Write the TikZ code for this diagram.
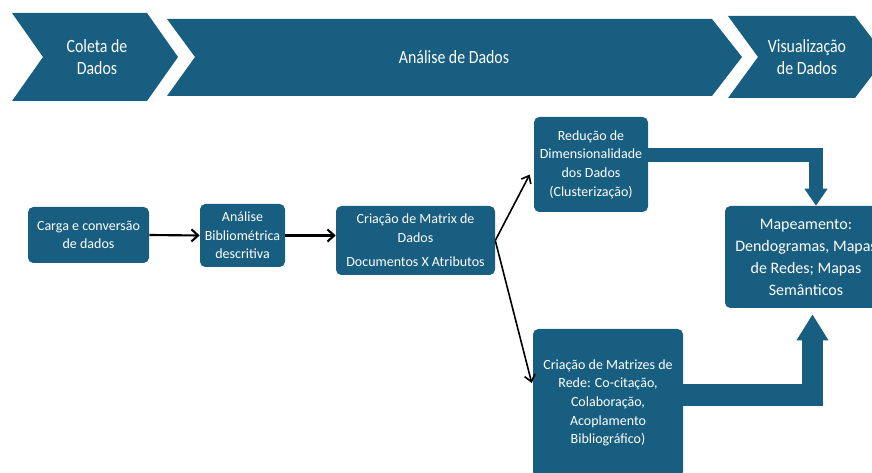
\documentclass[tikz,border=0pt]{standalone}
\usepackage{fontspec}
\setmainfont{Carlito}
\newfontfamily\narrowfont{Carlito}[FakeStretch=0.85]
\usetikzlibrary{arrows.meta,calc}
\definecolor{petrol}{HTML}{185E80}

\begin{document}
\begin{tikzpicture}[x=0.75pt,y=0.75pt,yscale=-1,
  phase/.style={text=white, align=center, font=\narrowfont\fontsize{14}{16}\selectfont},
  box/.style={fill=petrol, rounded corners=4pt, text=white, align=center, inner sep=0pt, font=\fontsize{10.5}{14}\selectfont},
  flow/.style={line width=1.6pt, -{Straight Barb[length=5pt,width=9pt]}},
  branch/.style={line width=1.2pt, -{Straight Barb[length=5pt,width=8pt]}}]

\clip (0,0) rectangle (872,473);

% fases
\fill[petrol] (12,13) -- (147,13) -- (178,57) -- (147,101) -- (12,101) -- (43,57) -- cycle;
\fill[petrol] (167,19) -- (712,19) -- (742,57) -- (712,96) -- (167,96) -- (195,57) -- cycle;
\fill[petrol] (728,16) -- (855,16) -- (886,57) -- (855,98) -- (728,98) -- (758,57) -- cycle;

\node[phase] (coleta) at (97,57) {Coleta de\\Dados};
\node[phase] (analisedados) at (454,57) {Análise de Dados};
\node[phase] (visual) at (807,57) {Visualização\\de Dados};

% caixas
\node[box, minimum width=90.75pt, minimum height=42pt] (carga) at (88.5,235) {Carga e conversão\\de dados};
\node[box, minimum width=63.75pt, minimum height=47.25pt] (analise) at (242.5,235.5) {Análise\\Bibliométrica\\descritiva};
\node[box, minimum width=119.25pt, minimum height=51.75pt] (matriz) at (415.5,240.5) {Criação de Matrix de\\Dados\\[4pt]Documentos X Atributos};
\node[box, minimum width=85.5pt, minimum height=71.25pt] (red) at (591,164.5) {Redução de\\Dimensionalidade\\dos Dados\\(Clusterização)};
\node[box, minimum width=112.5pt, minimum height=111pt] (crm) at (608,403) {Criação de Matrizes de\\Rede: Co-citação,\\Colaboração,\\Acoplamento\\Bibliográfico)};
\node[box, minimum width=121.5pt, minimum height=76.5pt, font=\fontsize{12}{16.5}\selectfont] (mapa) at (806,257) {Mapeamento:\\Dendogramas, Mapas\\de Redes; Mapas\\Semânticos};

% setas
\draw[flow] (carga.east) -- (analise.west);
\draw[flow] (analise.east) -- (analise.east -| matriz.west);
\draw[branch] (matriz.east) -- ($(red.west)+(-4,10)$);
\draw[branch] (matriz.east) -- ($(crm.west)+(-1,-20)$);

\draw[petrol, line width=11pt, -{Triangle[length=12.75pt,width=16.5pt]}] (red.east |- 0,155) -| (816,0 |- mapa.north);
\draw[petrol, line width=16pt, -{Triangle[length=19.5pt,width=22.5pt]}, shorten >=4.5pt] (crm.east |- 0,395) -| (812.5,0 |- mapa.south);

\end{tikzpicture}
\end{document}
